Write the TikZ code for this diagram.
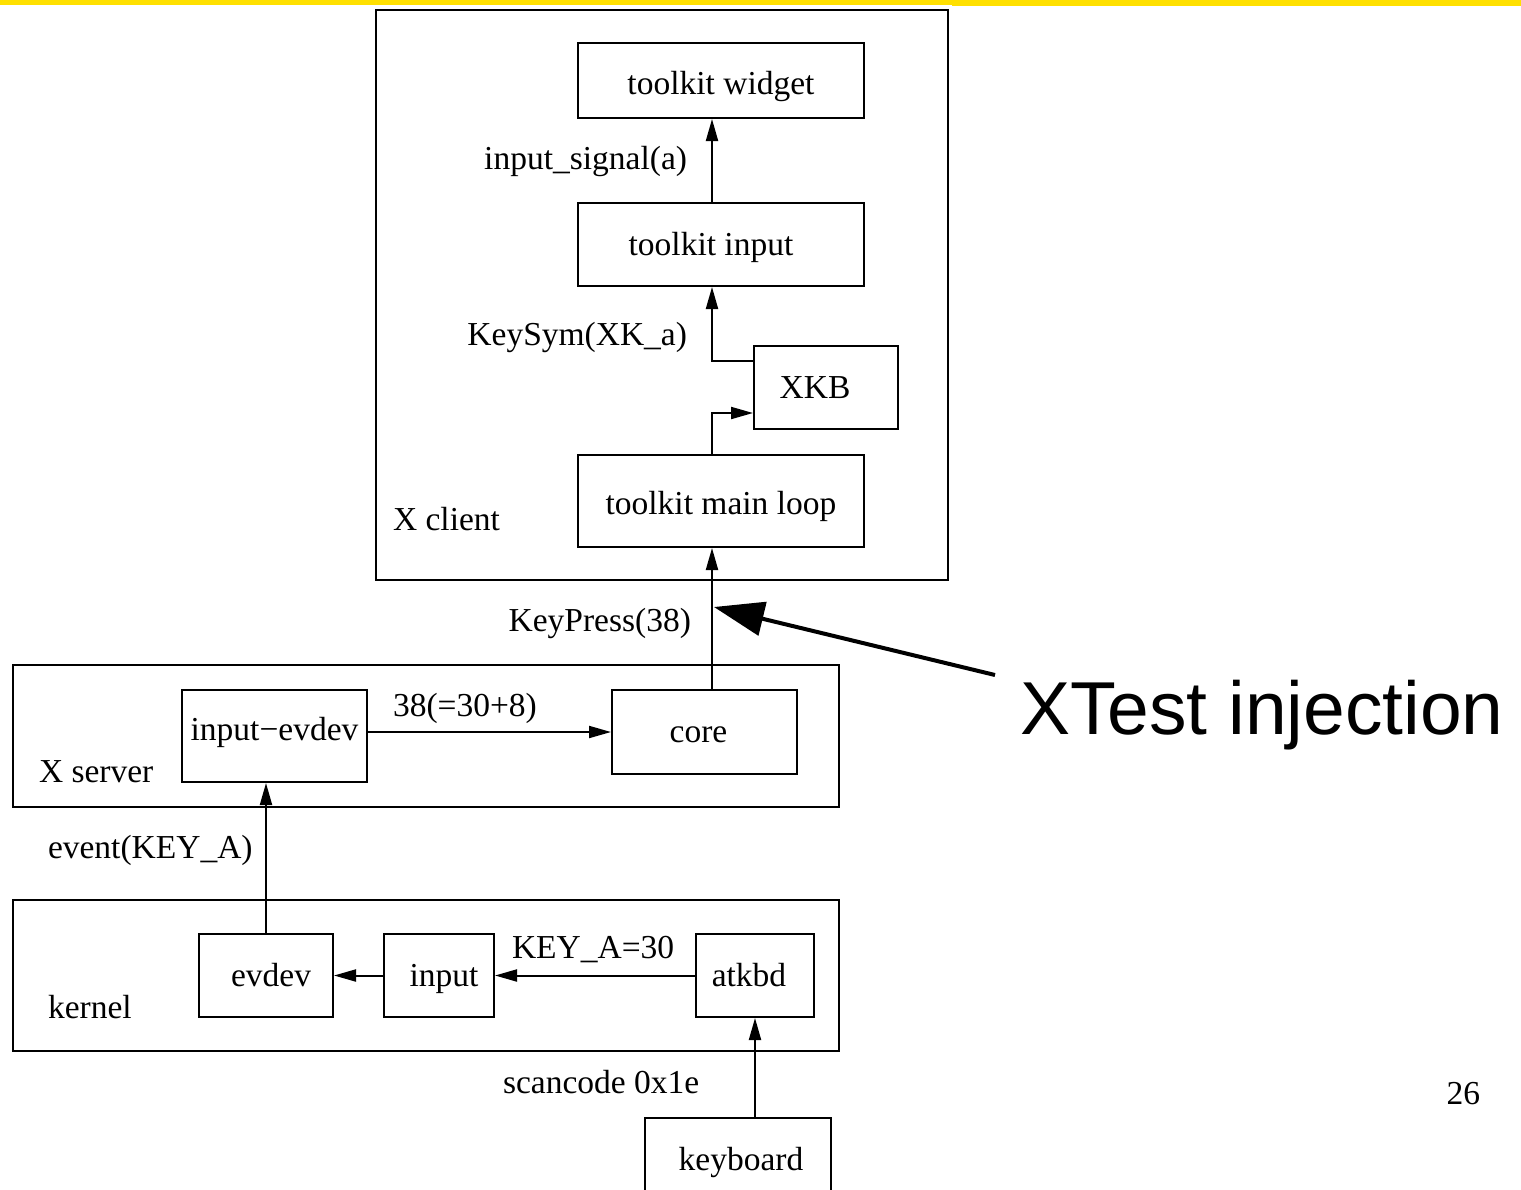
\documentclass[tikz,border=0pt]{standalone}
\usepackage{fontspec}
\setmainfont{Liberation Serif}
\newfontfamily\calloutfont{Liberation Sans}
\usetikzlibrary{arrows.meta}
\definecolor{bandyellow}{RGB}{255,224,0}
\begin{document}
\begin{tikzpicture}[x=1pt, y=-1pt, line width=2pt,
  every node/.style={font=\fontsize{33.5}{40}\selectfont},
  box/.style={draw, rectangle, inner sep=0pt, anchor=north west,
              text height=23pt, text depth=2pt},
  nudge/.style={execute at begin node={\hspace*{#1}}},
  region/.style={draw, rectangle, inner sep=0pt, anchor=north west},
  flow/.style={-{Triangle[length=22pt,width=12pt]}},
  tag/.style={inner sep=0pt}]

% page frame
\clip (0,0) rectangle (1521,1189);
\fill[bandyellow] (0,0) rectangle (952,4.5);
\fill[bandyellow] (952,0) rectangle (1521,6);

% layers
\node[region, minimum width=572, minimum height=570] (xclient) at (375,9) {};
\node[region, minimum width=826, minimum height=142] (xserver) at (12,664) {};
\node[region, minimum width=826, minimum height=151] (kernel) at (12,899) {};

% X client
\node[box, text height=29pt, minimum width=286, minimum height=75] (tw) at (577,42) {toolkit widget};
\node[box, nudge=-20pt, minimum width=286, minimum height=83] (tin) at (577,202) {toolkit input};
\node[box, nudge=-22pt, minimum width=144, minimum height=83] (xkb) at (753,345) {XKB};
\node[box, text height=29pt, minimum width=286, minimum height=92] (tml) at (577,454) {toolkit main loop};
\node[tag, anchor=base west] (lclient) at (392,530) {X client};

% X server
\node[box, text height=11pt, minimum width=185, minimum height=92] (ie) at (181,689) {input−evdev};
\node[box, nudge=-12pt, minimum width=185, minimum height=84] (core) at (611,689) {core};
\node[tag, anchor=base west] (lserver) at (38,782) {X server};

% kernel
\node[box, nudge=10pt, minimum width=134, minimum height=83] (evdev) at (198,933) {evdev};
\node[box, nudge=10pt, minimum width=110, minimum height=83] (input) at (383,933) {input};
\node[box, nudge=-12pt, minimum width=118, minimum height=83] (atkbd) at (695,933) {atkbd};
\node[tag, anchor=base west] (lkernel) at (47,1018) {kernel};

% hardware
\node[box, nudge=6pt, minimum width=186, minimum height=83] (kb) at (644,1117) {keyboard};

% vertical spine through the client
\coordinate (spine) at (712,0);

% connectors
\draw[flow] (tin.north -| spine) -- (tw.south -| spine);
\draw[flow] ([yshift=-16pt]xkb.north west) -| (tin.south -| spine);
\draw[flow] (tml.north -| spine) |- ([yshift=17pt]xkb.south west);
\draw[flow] (core.north -| spine) -- (tml.south -| spine);
\draw[flow] (ie.east |- core.west) -- (core.west);
\draw[flow] (evdev.north) -- (evdev.north |- ie.south);
\draw[flow] (atkbd.west) -- (input.east);
\draw[flow] (input.west) -- (evdev.east);
\draw[flow] (kb.north -| atkbd.south) -- (atkbd.south);

% connector labels
\node[tag, anchor=base east] (lsig) at (688,169) {input\_signal(a)};
\node[tag, anchor=base east] (lsym) at (688,345) {KeySym(XK\_a)};
\node[tag, anchor=base east] (lpress) at (692,631) {KeyPress(38)};
\node[tag, anchor=base west] (lcode) at (392,716) {38(=30+8)};
\node[tag, anchor=base west] (levent) at (47,858) {event(KEY\_A)};
\node[tag, anchor=base west] (lkey) at (511,958) {KEY\_A=30};
\node[tag, anchor=base west] (lscan) at (502,1093) {scancode 0x1e};

% injection callout
\coordinate (xtip) at (714,607);
\coordinate (xtail) at (995,675);
\draw[line width=4pt, -{Triangle[length=50pt,width=34pt]}] (xtail) -- (xtip);
\node[tag, anchor=base west, font=\calloutfont\fontsize{75}{82}\selectfont] (xtest) at (1019,734) {XTest injection};

% page number
\node[tag, anchor=base east] (pnum) at (1481,1104) {26};
\end{tikzpicture}
\end{document}
